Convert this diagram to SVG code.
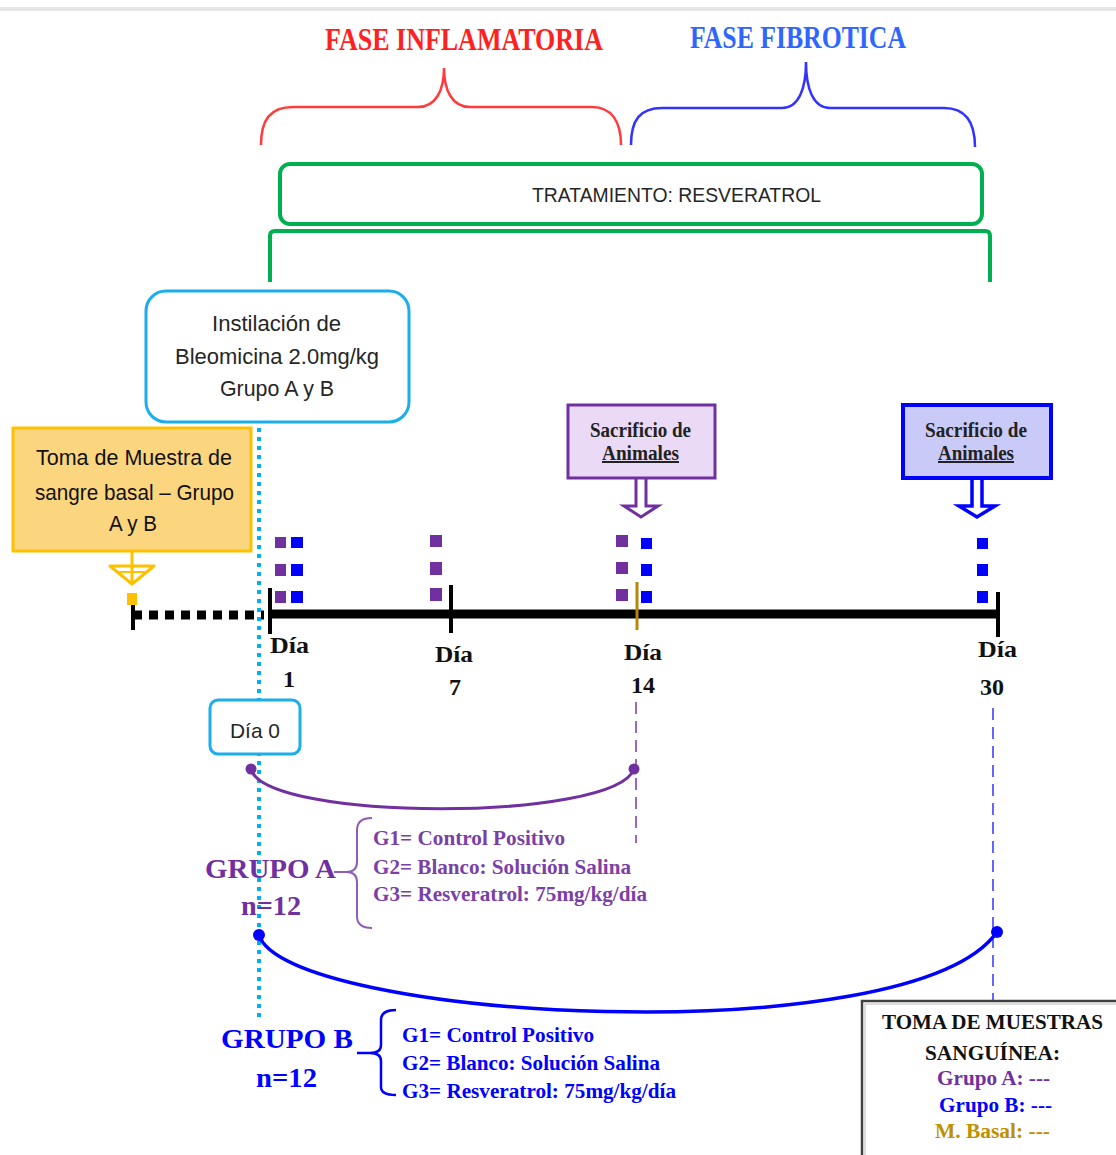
<svg xmlns="http://www.w3.org/2000/svg" width="1116" height="1155" viewBox="0 0 1116 1155">
<style>
.serif{font-family:"Liberation Serif","Times New Roman",serif;font-weight:bold}
.sans{font-family:"Liberation Sans",Arial,sans-serif}
.dark{fill:#262626}
.pur{fill:#7030A0}
.blu{fill:#0000FF}
</style>
<rect x="0" y="0" width="1116" height="1155" fill="#ffffff"/>
<rect x="0" y="7" width="1116" height="4" fill="#e6e6e6"/>

<g id="fase-inflamatoria">
<text class="serif" x="325" y="50" font-size="32" fill="#FF2020" textLength="278" lengthAdjust="spacingAndGlyphs">FASE INFLAMATORIA</text>
<path d="M261,145 C261,120 270,107 293,107 L418,107 C436,107 444,90 444,68 C444,90 452,107 470,107 L592,107 C612,107 621,122 621,145" fill="none" stroke="#FF3B3B" stroke-width="2.5"/>
</g>
<g id="fase-fibrotica">
<text class="serif" x="690" y="48" font-size="32" fill="#2F66FF" textLength="216" lengthAdjust="spacingAndGlyphs">FASE FIBROTICA</text>
<path d="M631,145 C631,120 640,108 662,108 L782,108 C799,108 806,88 806,62 C806,88 813,108 830,108 L944,108 C966,108 975,122 975,147" fill="none" stroke="#3333FF" stroke-width="2.5"/>
</g>

<g id="tratamiento">
<rect x="280" y="164" width="702" height="60" rx="10" fill="#ffffff" stroke="#00B050" stroke-width="4"/>
<text class="sans dark" x="532" y="202" font-size="21" textLength="289" lengthAdjust="spacingAndGlyphs">TRATAMIENTO: RESVERATROL</text>
<path d="M270,282 L270,236 Q270,231 275,231 L985,231 Q990,231 990,236 L990,282" fill="none" stroke="#00B050" stroke-width="4"/>
</g>

<g id="connectors">
<!-- cyan dotted vertical -->
<line x1="259" y1="428" x2="259" y2="1022" stroke="#00B0F0" stroke-width="4" stroke-dasharray="4 5"/>
<!-- black dotted baseline -->
<line x1="133" y1="615" x2="264" y2="615" stroke="#000" stroke-width="9" stroke-dasharray="9 7"/>
<line x1="133" y1="605" x2="133" y2="630" stroke="#000" stroke-width="4"/>
<!-- main timeline -->
<line x1="270" y1="614" x2="998" y2="614" stroke="#000" stroke-width="9"/>
<line x1="270" y1="588" x2="270" y2="634" stroke="#000" stroke-width="4"/>
<line x1="451" y1="585" x2="451" y2="633" stroke="#000" stroke-width="4"/>
<line x1="637" y1="582" x2="637" y2="630" stroke="#B8860B" stroke-width="3"/>
<line x1="998" y1="592" x2="998" y2="637" stroke="#000" stroke-width="4"/>
<!-- dashed verticals -->
<line x1="636" y1="702" x2="636" y2="843" stroke="#9966CC" stroke-width="2" stroke-dasharray="12 7"/>
<line x1="993" y1="708" x2="993" y2="1001" stroke="#6666FF" stroke-width="2" stroke-dasharray="12 7"/>
<!-- arcs -->
<path d="M251,769 C265,822 615,822 634,769" fill="none" stroke="#7030A0" stroke-width="3"/>
<circle cx="251" cy="769" r="5.5" fill="#7030A0"/>
<circle cx="634" cy="769" r="5.5" fill="#7030A0"/>
<path d="M259,935 C285,1020 910,1055 997,932" fill="none" stroke="#0000FF" stroke-width="3.5"/>
<circle cx="259" cy="935" r="6" fill="#0000FF"/>
<circle cx="997" cy="932" r="6" fill="#0000FF"/>
<!-- orange arrow -->
<rect x="126" y="541" width="11" height="9" fill="#FFC000"/>
<line x1="132" y1="548" x2="132" y2="582" stroke="#FFC000" stroke-width="3"/>
<polygon points="110,566 154,566 132,584" fill="none" stroke="#FFC000" stroke-width="3" stroke-linejoin="round"/>
<line x1="118" y1="572" x2="146" y2="572" stroke="#FFC000" stroke-width="2"/>
<rect x="127" y="593" width="10" height="12" fill="#FFC000"/>
<!-- sacrificio arrows -->
<path d="M636,479 L636,506 L624,506 L641,517 L658,506 L646,506 L646,479" fill="#ffffff" stroke="#7030A0" stroke-width="3" stroke-linejoin="miter"/>
<path d="M972,479 L972,506 L959,506 L977,517 L995,506 L982,506 L982,479" fill="#ffffff" stroke="#0000FF" stroke-width="3.5" stroke-linejoin="miter"/>
</g>

<g id="markers">
<g fill="#7030A0">
<rect x="275" y="537" width="11" height="11"/><rect x="275" y="564" width="11" height="12"/><rect x="275" y="591" width="11" height="12"/>
<rect x="430" y="535" width="12" height="12"/><rect x="430" y="562" width="12" height="13"/><rect x="430" y="588" width="12" height="13"/>
<rect x="616" y="535" width="12" height="12"/><rect x="616" y="562" width="12" height="12"/><rect x="616" y="589" width="12" height="12"/>
</g>
<g fill="#0000FF">
<rect x="291" y="537" width="12" height="11"/><rect x="291" y="564" width="12" height="12"/><rect x="291" y="591" width="12" height="12"/>
<rect x="641" y="538" width="11" height="11"/><rect x="641" y="564" width="11" height="12"/><rect x="641" y="591" width="11" height="12"/>
<rect x="977" y="538" width="11" height="11"/><rect x="977" y="564" width="11" height="12"/><rect x="977" y="591" width="11" height="12"/>
</g>
</g>

<g id="day-labels" class="serif" font-size="24" fill="#111">
<text x="270" y="653" textLength="39" lengthAdjust="spacingAndGlyphs">Día</text>
<text x="289" y="687" text-anchor="middle">1</text>
<text x="435" y="662" textLength="38" lengthAdjust="spacingAndGlyphs">Día</text>
<text x="455" y="695" text-anchor="middle">7</text>
<text x="624" y="660" textLength="38" lengthAdjust="spacingAndGlyphs">Día</text>
<text x="643" y="693" text-anchor="middle">14</text>
<text x="978" y="657" textLength="39" lengthAdjust="spacingAndGlyphs">Día</text>
<text x="992" y="695" text-anchor="middle">30</text>
</g>

<g id="instilacion">
<rect x="146" y="291" width="263" height="131" rx="20" fill="#ffffff" stroke="#1AAEEA" stroke-width="3"/>
<text class="sans dark" x="212" y="331" font-size="22" textLength="129" lengthAdjust="spacingAndGlyphs">Instilación de</text>
<text class="sans dark" x="175" y="364" font-size="22" textLength="204" lengthAdjust="spacingAndGlyphs">Bleomicina 2.0mg/kg</text>
<text class="sans dark" x="220" y="396" font-size="22" textLength="114" lengthAdjust="spacingAndGlyphs">Grupo A y B</text>
</g>

<g id="toma-basal">
<rect x="13" y="428" width="238" height="123" fill="#FCD67E" stroke="#FFC000" stroke-width="3"/>
<text class="sans" fill="#111" x="36" y="465" font-size="22" textLength="196" lengthAdjust="spacingAndGlyphs">Toma de Muestra de</text>
<text class="sans" fill="#111" x="35" y="500" font-size="22" textLength="199" lengthAdjust="spacingAndGlyphs">sangre basal – Grupo</text>
<text class="sans" fill="#111" x="109" y="531" font-size="22" textLength="48" lengthAdjust="spacingAndGlyphs">A y B</text>
</g>

<g id="sacrificio-14">
<rect x="568" y="405" width="147" height="73" fill="#EBDAF6" stroke="#7030A0" stroke-width="3"/>
<text class="serif" fill="#222" x="590" y="437" font-size="20" textLength="101" lengthAdjust="spacingAndGlyphs">Sacrificio de</text>
<text class="serif" fill="#222" x="602" y="460" font-size="20" textLength="77" lengthAdjust="spacingAndGlyphs" text-decoration="underline">Animales</text>
</g>

<g id="sacrificio-30">
<rect x="903" y="405" width="148" height="73" fill="#CACAF8" stroke="#0000FF" stroke-width="4"/>
<text class="serif" fill="#222" x="925" y="437" font-size="20" textLength="102" lengthAdjust="spacingAndGlyphs">Sacrificio de</text>
<text class="serif" fill="#222" x="938" y="460" font-size="20" textLength="76" lengthAdjust="spacingAndGlyphs" text-decoration="underline">Animales</text>
</g>

<g id="dia0">
<rect x="210" y="700" width="90" height="54" rx="8" fill="#ffffff" stroke="#1AAEEA" stroke-width="3"/>
<text class="sans dark" x="230" y="738" font-size="21" textLength="50" lengthAdjust="spacingAndGlyphs">Día 0</text>
</g>

<g id="grupo-a">
<text class="serif" fill="#7030A0" x="205" y="878" font-size="28" textLength="131" lengthAdjust="spacingAndGlyphs">GRUPO A</text>
<text class="serif" fill="#7030A0" x="241" y="915" font-size="28" textLength="60" lengthAdjust="spacingAndGlyphs">n=12</text>
<path d="M372,818 Q357,818 357,830 L357,862 Q357,872 346,872 Q357,872 357,882 L357,916 Q357,928 372,928 M334,872 L346,872" fill="none" stroke="#8E5DB5" stroke-width="2"/>
<text class="serif" fill="#7B3FA8" x="373" y="845" font-size="21" textLength="192" lengthAdjust="spacingAndGlyphs">G1= Control Positivo</text>
<text class="serif" fill="#7B3FA8" x="373" y="874" font-size="21" textLength="258" lengthAdjust="spacingAndGlyphs">G2= Blanco: Solución Salina</text>
<text class="serif" fill="#7B3FA8" x="373" y="901" font-size="21" textLength="274" lengthAdjust="spacingAndGlyphs">G3= Resveratrol: 75mg/kg/día</text>
</g>

<g id="grupo-b">
<text class="serif" fill="#0000FF" x="221" y="1048" font-size="28" textLength="132" lengthAdjust="spacingAndGlyphs">GRUPO B</text>
<text class="serif" fill="#0000FF" x="256" y="1087" font-size="28" textLength="61" lengthAdjust="spacingAndGlyphs">n=12</text>
<path d="M396,1010 Q381,1010 381,1020 L381,1045 Q381,1053 370,1053 Q381,1053 381,1061 L381,1087 Q381,1095 396,1095 M357,1053 L370,1053" fill="none" stroke="#0000FF" stroke-width="2.5"/>
<text class="serif" fill="#0000FF" x="402" y="1042" font-size="21" textLength="192" lengthAdjust="spacingAndGlyphs">G1= Control Positivo</text>
<text class="serif" fill="#0000FF" x="402" y="1070" font-size="21" textLength="258" lengthAdjust="spacingAndGlyphs">G2= Blanco: Solución Salina</text>
<text class="serif" fill="#0000FF" x="402" y="1098" font-size="21" textLength="274" lengthAdjust="spacingAndGlyphs">G3= Resveratrol: 75mg/kg/día</text>
</g>

<g id="toma-muestras">
<rect x="862" y="1001" width="270" height="170" fill="#ffffff" stroke="#404040" stroke-width="2.5"/>
<rect x="865" y="1004" width="270" height="170" fill="none" stroke="#bbbbbb" stroke-width="1"/>
<text class="serif" fill="#111" x="882" y="1029" font-size="21" textLength="221" lengthAdjust="spacingAndGlyphs">TOMA DE MUESTRAS</text>
<text class="serif" fill="#111" x="925" y="1060" font-size="21" textLength="135" lengthAdjust="spacingAndGlyphs">SANGUÍNEA:</text>
<text class="serif" fill="#7030A0" x="937" y="1085" font-size="20" textLength="113" lengthAdjust="spacingAndGlyphs">Grupo A: ---</text>
<text class="serif" fill="#0000FF" x="939" y="1112" font-size="20" textLength="113" lengthAdjust="spacingAndGlyphs">Grupo B: ---</text>
<text class="serif" fill="#BF9000" x="935" y="1138" font-size="20" textLength="115" lengthAdjust="spacingAndGlyphs">M. Basal: ---</text>
</g>
</svg>
